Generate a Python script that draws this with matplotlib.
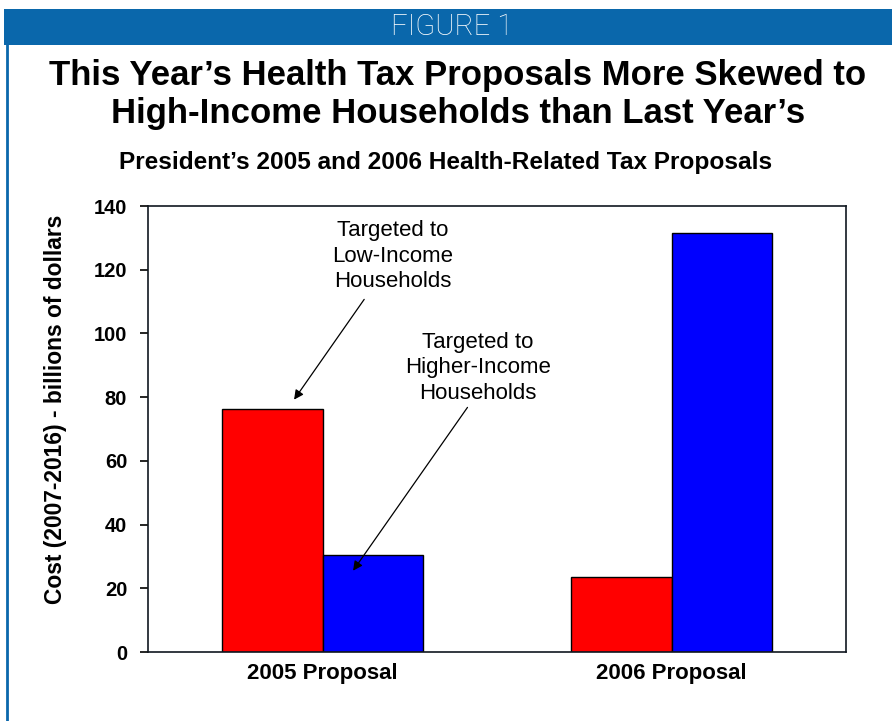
import matplotlib
matplotlib.use("Agg")
import matplotlib.pyplot as plt
import numpy as np
from matplotlib.patches import Rectangle
from matplotlib.lines import Line2D

categories = ["2005 Proposal", "2006 Proposal"]
low_income = [76.3, 23.6]
higher_income = [30.6, 131.6]
yticks = [0, 20, 40, 60, 80, 100, 120, 140]

plt.rcParams['font.family'] = ['Liberation Sans', 'DejaVu Sans']

W, H = 892, 721
fig = plt.figure(figsize=(W / 100, H / 100), dpi=100)
fig.patch.set_facecolor("white")

blue_hdr = "#0A67AB"
# header band
fig.add_artist(Rectangle((4 / W, 1 - 45 / H), 1 - 4 / W, 36 / H, transform=fig.transFigure,
                         facecolor=blue_hdr, edgecolor="none"))
# left border line
fig.add_artist(Line2D([7 / W, 7 / W], [0, 1 - 44 / H], transform=fig.transFigure,
                      color=blue_hdr, linewidth=2))
fig.text(452 / W, 1 - 27 / H, "FIGURE 1", color="white", ha="center", va="center",
         fontsize=21, fontweight="light", fontstretch="condensed",
         family=["Liberation Sans Narrow", "Roboto", "DejaVu Sans"])

fig.text(458 / W, 1 - 75 / H, "This Year\u2019s Health Tax Proposals More Skewed to",
         ha="center", va="center", fontsize=25, fontweight="bold")
fig.text(458 / W, 1 - 114 / H, "High-Income Households than Last Year\u2019s",
         ha="center", va="center", fontsize=25, fontweight="bold")
fig.text(446 / W, 1 - 163 / H, "President\u2019s 2005 and 2006 Health-Related Tax Proposals",
         ha="center", va="center", fontsize=17.6, fontweight="bold")

ax = fig.add_axes([148 / W, 1 - 652 / H, 698 / W, 446 / H])
x = np.arange(len(categories))
bw = 0.287
ax.bar(x - bw / 2, low_income, width=bw, color="#FF0000", edgecolor="black", linewidth=1)
ax.bar(x + bw / 2, higher_income, width=bw, color="#0000FF", edgecolor="black", linewidth=1)

ax.set_xlim(-0.5, 1.5)
ax.set_ylim(0, 140)
ax.set_yticks(yticks)
ax.set_yticklabels([str(v) for v in yticks], fontsize=14.5, fontweight="bold")
ax.set_xticks(x)
ax.set_xticklabels(categories, fontsize=16, fontweight="bold")
ax.tick_params(axis="x", length=0, pad=8)
ax.tick_params(axis="y", length=6, width=1.2, pad=9)
for s in ax.spines.values():
    s.set_linewidth(1.2)
    s.set_color("#111820")

ax.set_ylabel("Cost (2007-2016) - billions of dollars", fontsize=16.4, fontweight="bold")
ax.yaxis.set_label_coords(-0.116, 0.543)

ax.annotate("", xy=(-0.086, 78.5), xytext=(0.124, 111.4),
            arrowprops=dict(arrowstyle="-|>", color="black", lw=0.9, mutation_scale=14))
ax.text(0.201, 124.3, "Targeted to\nLow-Income\nHouseholds", ha="center", va="center",
        fontsize=16, linespacing=1.3)
ax.annotate("", xy=(0.083, 24.8), xytext=(0.42, 77.5),
            arrowprops=dict(arrowstyle="-|>", color="black", lw=0.9, mutation_scale=14))
ax.text(0.445, 89.2, "Targeted to\nHigher-Income\nHouseholds", ha="center", va="center",
        fontsize=16, linespacing=1.3)

fig.savefig("out.png", dpi=100)
